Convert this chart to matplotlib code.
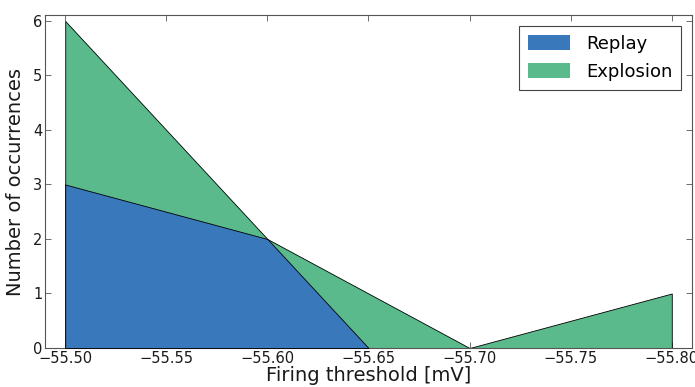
import matplotlib
matplotlib.use("Agg")
import matplotlib.pyplot as plt

# Firing-threshold histograms (occurrence counts)
replay_x = [-55.50, -55.60, -55.65]
replay_counts = [3, 2, 0]
explosion_x = [-55.50, -55.60, -55.70, -55.80]
explosion_counts = [6, 2, 0, 1]
xticks = [-55.50, -55.55, -55.60, -55.65, -55.70, -55.75, -55.80]
yticks = [0, 1, 2, 3, 4, 5, 6]

blue = "#3a78bc"
green = "#5aba8b"

fig = plt.figure(figsize=(6.95, 3.87), dpi=100)
ax = fig.add_axes([45 / 695, 1 - 348 / 387, (692 - 45) / 695, (348 - 15) / 387])

ax.fill_between(explosion_x, explosion_counts, 0, facecolor=green,
                edgecolor="black", linewidth=0.6, label="Explosion", zorder=2)
ax.fill_between(replay_x, replay_counts, 0, facecolor=blue,
                edgecolor="black", linewidth=0.6, label="Replay", zorder=3)

ax.set_xlim(-55.49, -55.81)
ax.set_ylim(0, 6.11)
ax.set_xticks(xticks)
ax.set_xticklabels([f"\u2212{abs(v):.2f}" for v in xticks])
ax.set_yticks(yticks)

for side in ax.spines.values():
    side.set_color("#555555")
    side.set_linewidth(0.8)
ax.tick_params(direction="in", top=True, right=True, length=4, width=0.6,
               colors="#555555", labelcolor="#1a1a1a", labelsize=10.5, pad=2)

ax.set_xlabel("Firing threshold [mV]", fontsize=14, color="#1a1a1a", labelpad=0)
ax.set_ylabel("Number of occurrences", fontsize=14, color="#1a1a1a", labelpad=6)

handles, labels = ax.get_legend_handles_labels()
order = [labels.index("Replay"), labels.index("Explosion")]
leg = ax.legend([handles[i] for i in order], [labels[i] for i in order],
                loc="upper right", fontsize=13, fancybox=False, framealpha=1,
                handlelength=2.3, handleheight=0.9, labelspacing=0.55,
                handletextpad=0.9, borderaxespad=0.6, borderpad=0.5)
leg.get_frame().set_edgecolor("#444444")
leg.get_frame().set_linewidth(0.8)
for h in leg.legend_handles:
    h.set_edgecolor("none")

fig.savefig("out.png", dpi=100)
